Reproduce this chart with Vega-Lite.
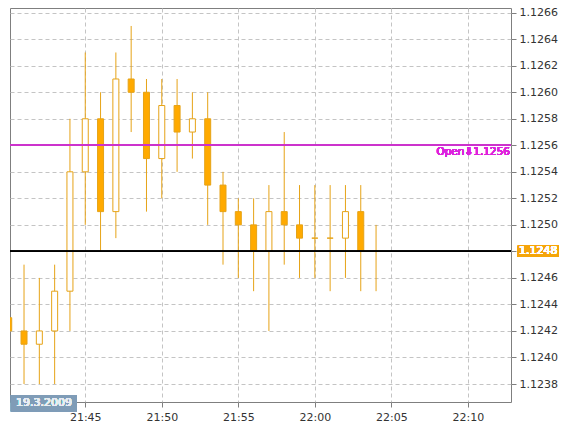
{
  "$schema": "https://vega.github.io/schema/vega-lite/v6.json",
  "width": 501,
  "height": 394,
  "autosize": {"type": "none"},
  "padding": {"left": 10, "top": 8, "right": 57, "bottom": 31},
  "background": "#ffffff",
  "config": {
    "view": {"stroke": "#7f7f7f", "strokeWidth": 1},
    "font": "DejaVu Sans",
    "axis": {
      "labelFont": "DejaVu Sans",
      "labelFontSize": 11,
      "labelColor": "#333333",
      "labelOverlap": false,
      "tickColor": "#7f7f7f",
      "tickSize": 5,
      "domain": false,
      "grid": true,
      "gridColor": "#c4c4c4",
      "gridDash": [4, 3],
      "gridWidth": 1,
      "title": null,
      "zindex": 0
    }
  },
  "data": {
    "values": [
      {"t": "2009-03-19T21:40:00", "open": 1.1243, "high": 1.1244, "low": 1.1241, "close": 1.1242},
      {"t": "2009-03-19T21:41:00", "open": 1.1242, "high": 1.1247, "low": 1.1238, "close": 1.1241},
      {"t": "2009-03-19T21:42:00", "open": 1.1241, "high": 1.1246, "low": 1.1238, "close": 1.1242},
      {"t": "2009-03-19T21:43:00", "open": 1.1242, "high": 1.1247, "low": 1.1238, "close": 1.1245},
      {"t": "2009-03-19T21:44:00", "open": 1.1245, "high": 1.1258, "low": 1.1242, "close": 1.1254},
      {"t": "2009-03-19T21:45:00", "open": 1.1254, "high": 1.1263, "low": 1.1250, "close": 1.1258},
      {"t": "2009-03-19T21:46:00", "open": 1.1258, "high": 1.1260, "low": 1.1248, "close": 1.1251},
      {"t": "2009-03-19T21:47:00", "open": 1.1251, "high": 1.1263, "low": 1.1249, "close": 1.1261},
      {"t": "2009-03-19T21:48:00", "open": 1.1261, "high": 1.1265, "low": 1.1257, "close": 1.1260},
      {"t": "2009-03-19T21:49:00", "open": 1.1260, "high": 1.1261, "low": 1.1251, "close": 1.1255},
      {"t": "2009-03-19T21:50:00", "open": 1.1255, "high": 1.1261, "low": 1.1252, "close": 1.1259},
      {"t": "2009-03-19T21:51:00", "open": 1.1259, "high": 1.1261, "low": 1.1254, "close": 1.1257},
      {"t": "2009-03-19T21:52:00", "open": 1.1257, "high": 1.1260, "low": 1.1255, "close": 1.1258},
      {"t": "2009-03-19T21:53:00", "open": 1.1258, "high": 1.1260, "low": 1.1250, "close": 1.1253},
      {"t": "2009-03-19T21:54:00", "open": 1.1253, "high": 1.1254, "low": 1.1247, "close": 1.1251},
      {"t": "2009-03-19T21:55:00", "open": 1.1251, "high": 1.1252, "low": 1.1246, "close": 1.1250},
      {"t": "2009-03-19T21:56:00", "open": 1.1250, "high": 1.1252, "low": 1.1245, "close": 1.1248},
      {"t": "2009-03-19T21:57:00", "open": 1.1248, "high": 1.1253, "low": 1.1242, "close": 1.1251},
      {"t": "2009-03-19T21:58:00", "open": 1.1251, "high": 1.1257, "low": 1.1247, "close": 1.1250},
      {"t": "2009-03-19T21:59:00", "open": 1.1250, "high": 1.1253, "low": 1.1246, "close": 1.1249},
      {"t": "2009-03-19T22:00:00", "open": 1.1249, "high": 1.1253, "low": 1.1246, "close": 1.1249},
      {"t": "2009-03-19T22:01:00", "open": 1.1249, "high": 1.1253, "low": 1.1245, "close": 1.1249},
      {"t": "2009-03-19T22:02:00", "open": 1.1249, "high": 1.1253, "low": 1.1246, "close": 1.1251},
      {"t": "2009-03-19T22:03:00", "open": 1.1251, "high": 1.1253, "low": 1.1245, "close": 1.1248},
      {"t": "2009-03-19T22:04:00", "open": 1.1248, "high": 1.1250, "low": 1.1245, "close": 1.1248}
    ]
  },
  "layer": [
    {
      "mark": {"type": "rule", "color": "#e6a317", "strokeWidth": 1, "clip": true},
      "encoding": {
        "x": {
          "field": "t",
          "type": "temporal",
          "scale": {
            "domain": [
              {"year": 2009, "month": 3, "date": 19, "hours": 21, "minutes": 40, "seconds": 5},
              {"year": 2009, "month": 3, "date": 19, "hours": 22, "minutes": 12, "seconds": 49}
            ],
            "nice": false,
            "padding": 0
          },
          "axis": {
            "orient": "bottom",
            "format": "%H:%M",
            "values": [
              {"year": 2009, "month": 3, "date": 19, "hours": 21, "minutes": 45},
              {"year": 2009, "month": 3, "date": 19, "hours": 21, "minutes": 50},
              {"year": 2009, "month": 3, "date": 19, "hours": 21, "minutes": 55},
              {"year": 2009, "month": 3, "date": 19, "hours": 22, "minutes": 0},
              {"year": 2009, "month": 3, "date": 19, "hours": 22, "minutes": 5},
              {"year": 2009, "month": 3, "date": 19, "hours": 22, "minutes": 10}
            ],
            "tickCount": 20,
            "labelPadding": 4,
            "labelFlush": false,
            "labelOverlap": false
          }
        },
        "y": {
          "field": "low",
          "type": "quantitative",
          "scale": {"domain": [1.1236643, 1.1266354], "nice": false, "zero": false, "padding": 0},
          "axis": {
            "orient": "right",
            "format": ".4f",
            "values": [1.1238, 1.124, 1.1242, 1.1244, 1.1246, 1.1248, 1.125, 1.1252, 1.1254, 1.1256, 1.1258, 1.126, 1.1262, 1.1264, 1.1266],
            "tickCount": 30,
            "labelPadding": 3,
            "labelFlush": false,
            "labelOverlap": false,
            "labelSeparation": 0,
            "labelBound": false
          }
        },
        "y2": {"field": "high"}
      }
    },
    {
      "mark": {"type": "bar", "size": 6, "stroke": "#e6a317", "strokeWidth": 1, "clip": true},
      "encoding": {
        "x": {"field": "t", "type": "temporal"},
        "y": {"field": "open", "type": "quantitative"},
        "y2": {"field": "close"},
        "fill": {
          "condition": {"test": "datum.close < datum.open", "value": "#ffaa00"},
          "value": "#ffffff"
        }
      }
    },
    {
      "mark": {"type": "rule", "color": "#cc33cc", "strokeWidth": 1},
      "encoding": {"y": {"datum": 1.1256, "type": "quantitative"}}
    },
    {
      "mark": {"type": "rule", "color": "#000000", "strokeWidth": 1},
      "encoding": {"y": {"datum": 1.1248, "type": "quantitative"}}
    },
    {
      "mark": {"type": "text", "text": "Open⬇1.1256", "color": "#dd22dd", "fontSize": 10.5, "fontWeight": "normal", "align": "right", "baseline": "top", "dx": -1, "dy": 2},
      "encoding": {
        "x": {"datum": {"year": 2009, "month": 3, "date": 19, "hours": 22, "minutes": 12, "seconds": 49}, "type": "temporal"},
        "y": {"datum": 1.1256, "type": "quantitative"}
      }
    },
    {
      "mark": {"type": "point", "shape": "M-1,-0.27H1V0.27H-1Z", "size": 1681, "filled": true, "fill": "#f5a50a", "opacity": 1, "strokeWidth": 0},
      "encoding": {
        "x": {"datum": {"year": 2009, "month": 3, "date": 19, "hours": 22, "minutes": 14, "seconds": 36}, "type": "temporal"},
        "y": {"datum": 1.1248, "type": "quantitative"}
      }
    },
    {
      "mark": {"type": "text", "text": "1.1248", "color": "#ffffff", "fontSize": 11, "fontWeight": "normal", "align": "center", "baseline": "middle"},
      "encoding": {
        "x": {"datum": {"year": 2009, "month": 3, "date": 19, "hours": 22, "minutes": 14, "seconds": 36}, "type": "temporal"},
        "y": {"datum": 1.1248, "type": "quantitative"}
      }
    },
    {
      "mark": {"type": "point", "shape": "M-1,-0.253H1V0.253H-1Z", "size": 4356, "filled": true, "fill": "#7f9cb7", "opacity": 1, "strokeWidth": 0},
      "encoding": {
        "x": {"datum": {"year": 2009, "month": 3, "date": 19, "hours": 21, "minutes": 42, "seconds": 18}, "type": "temporal"},
        "y": {"datum": 1.123655, "type": "quantitative"}
      }
    },
    {
      "mark": {"type": "text", "text": "19.3.2009", "color": "#e8eef4", "fontSize": 11, "fontWeight": "normal", "align": "center", "baseline": "middle"},
      "encoding": {
        "x": {"datum": {"year": 2009, "month": 3, "date": 19, "hours": 21, "minutes": 42, "seconds": 18}, "type": "temporal"},
        "y": {"datum": 1.123655, "type": "quantitative"}
      }
    }
  ]
}
